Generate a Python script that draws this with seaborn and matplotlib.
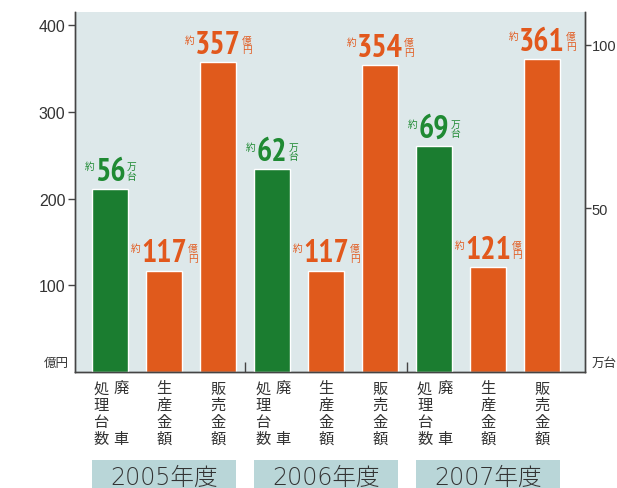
import matplotlib
matplotlib.use("Agg")
import matplotlib.pyplot as plt
import matplotlib.transforms as mtransforms
from matplotlib import font_manager
from matplotlib.font_manager import FontProperties
from matplotlib.patches import Rectangle
import seaborn as sns
import pandas as pd

# ---------------- data ----------------
years = ["2005年度", "2006年度", "2007年度"]
metrics = ["廃車処理台数", "生産金額", "販売金額"]
scrap_units = [56, 62, 69]          # 万台 (right axis)
production_value = [117, 117, 121]  # 億円 (left axis)
sales_value = [357, 354, 361]       # 億円 (left axis)
left_ticks = [100, 200, 300, 400]
right_ticks = [50, 100]

# ---------------- style ----------------
sns.set_theme(style="white")
plt.rcParams["font.family"] = ["Liberation Sans", "Noto Sans CJK JP", "DejaVu Sans"]
CJK = ["Noto Sans CJK JP", "DejaVu Sans"]
YEAR_FONT = ["DejaVu Sans", "Noto Sans CJK JP"]


# choose a bold narrow / condensed font file for the big numbers
def pick_number_font():
    ranked = []
    for f in font_manager.fontManager.ttflist:
        nm = f.name.lower()
        path = f.fname.lower()
        try:
            w = int(f.weight)
        except (TypeError, ValueError):
            w = 700 if "bold" in str(f.weight).lower() else 400
        if w < 600 or "italic" in path or "oblique" in path or f.style != "normal":
            continue
        st = str(f.stretch).lower()
        if "narrow" in nm or "narrow" in path:
            ranked.append((0, f.fname, 23))
        elif "roboto" in nm and ("condensed" in nm or "condensed" in path):
            ranked.append((1, f.fname, 22))
        elif "condensed" in nm or "condensed" in path or "condensed" in st:
            score = 3 if "dejavu" in path else 2
            ranked.append((score, f.fname, 21 if score == 2 else 18))
    if ranked:
        ranked.sort()
        return FontProperties(fname=ranked[0][1]), ranked[0][2]
    return FontProperties(family=["Liberation Sans"], weight="bold"), 17


NUM_FP, NUM_SIZE = pick_number_font()

GREEN = "#1b7d30"
ORANGE = "#e05a1c"
GREEN_T = "#1f8a33"
ORANGE_T = "#e2581c"
BG = "#dde8ea"
BOX = "#b9d6d8"
TXT = "#333333"
SPINE = "#444444"

slots = [f"{y}|{m}" for y in years for m in metrics]
rows_left, rows_right = [], []
for i, y in enumerate(years):
    rows_right.append({"slot": f"{y}|{metrics[0]}", "value": scrap_units[i]})
    rows_left.append({"slot": f"{y}|{metrics[1]}", "value": production_value[i]})
    rows_left.append({"slot": f"{y}|{metrics[2]}", "value": sales_value[i]})
df_left = pd.DataFrame(rows_left)
df_right = pd.DataFrame(rows_right)

fig = plt.figure(figsize=(6.17, 4.89), dpi=100)
ax = fig.add_axes([75 / 617, 1 - 373 / 489, 510 / 617, 360 / 489])
ax.set_facecolor(BG)

sns.barplot(data=df_left, x="slot", y="value", order=slots, color=ORANGE,
            saturation=1, width=0.67, errorbar=None, ax=ax, zorder=2)
ax2 = ax.twinx()
sns.barplot(data=df_right, x="slot", y="value", order=slots, color=GREEN,
            saturation=1, width=0.67, errorbar=None, ax=ax2, zorder=2)

for a in (ax, ax2):
    a.set_xlim(-0.65, 8.8)
    a.set_xlabel("")
    a.set_ylabel("")
ax.set_ylim(0, 415)
ax2.set_ylim(0, 110)

# y ticks
ax.set_yticks(left_ticks)
ax.set_yticklabels([str(t) for t in left_ticks])
ax2.set_yticks(right_ticks)
ax2.set_yticklabels([str(t) for t in right_ticks])
ax.tick_params(axis="y", which="both", left=True, direction="out", length=5,
               width=1, color=SPINE, labelsize=11.5, labelcolor=TXT, pad=2)
ax2.tick_params(axis="y", which="both", right=True, direction="out", length=4,
                width=1, color=SPINE, labelsize=10.5, labelcolor=TXT, pad=1)
ax2.tick_params(axis="y", left=False)

# x ticks: small inward ticks between groups only
ax.set_xticks([2.5, 5.5])
ax.set_xticklabels(["", ""])
ax.tick_params(axis="x", bottom=True, direction="in", length=7, width=1, color=SPINE)
ax2.tick_params(axis="x", bottom=False, top=False, labelbottom=False)

for a in (ax, ax2):
    a.spines["top"].set_visible(False)
    for s in ("left", "right", "bottom"):
        a.spines[s].set_color(SPINE)
        a.spines[s].set_linewidth(1)

# unit labels at the bottom of the axes
ax.text(-0.012, 0.008, "億円", transform=ax.transAxes, ha="right", va="bottom",
        fontsize=9, color=TXT, family=CJK)
ax.text(1.012, 0.008, "万台", transform=ax.transAxes, ha="left", va="bottom",
        fontsize=9, color=TXT, family=CJK)


# value annotations
def annotate_bar(a, x, v, unit, color):
    t = a.annotate(f"{v}", xy=(x, v), xytext=(0, 1.5), textcoords="offset points",
                   ha="center", va="bottom", fontproperties=NUM_FP,
                   color=color, zorder=6)
    t.set_fontsize(NUM_SIZE)
    a.annotate("約", xy=(0, 0.68), xycoords=t, xytext=(-0.5, 0),
               textcoords="offset points", ha="right", va="center",
               fontsize=7, color=color, family=CJK, zorder=6)
    a.annotate("\n".join(unit), xy=(1, 0.52), xycoords=t, xytext=(0.8, 0),
               textcoords="offset points", ha="left", va="center",
               fontsize=7, color=color, family=CJK, linespacing=0.95, zorder=6)


for i in range(len(years)):
    annotate_bar(ax2, 3 * i, scrap_units[i], "万台", GREEN_T)
    annotate_bar(ax, 3 * i + 1, production_value[i], "億円", ORANGE_T)
    annotate_bar(ax, 3 * i + 2, sales_value[i], "億円", ORANGE_T)

# category labels (vertical Japanese text)
blend = mtransforms.blended_transform_factory(ax.transData, ax.transAxes)
label_y = -0.02
for i in range(len(years)):
    for j, m in enumerate(metrics):
        x = 3 * i + j
        if j == 0:
            ax.text(x - 0.17, label_y, "\n".join(m[2:]), transform=blend,
                    ha="center", va="top", fontsize=11, color=TXT, family=CJK,
                    linespacing=1.0)
            ax.text(x + 0.2, label_y, m[0] + "\n\u3000\n\u3000\n" + m[1],
                    transform=blend, ha="center", va="top", fontsize=11,
                    color=TXT, family=CJK, linespacing=1.0)
        else:
            ax.text(x, label_y, "\n".join(m), transform=blend, ha="center",
                    va="top", fontsize=11, color=TXT, family=CJK, linespacing=1.0)
    # year box
    ax.add_patch(Rectangle((3 * i - 0.33, -0.36), 2.66, 0.116, transform=blend,
                           facecolor=BOX, edgecolor="none", clip_on=False, zorder=1))
    ax.text(3 * i + 1, -0.292, years[i], transform=blend, ha="center",
            va="center", fontsize=17, color=TXT, family=YEAR_FONT,
            fontweight="light")

fig.savefig("out.png", dpi=100, facecolor="white")
